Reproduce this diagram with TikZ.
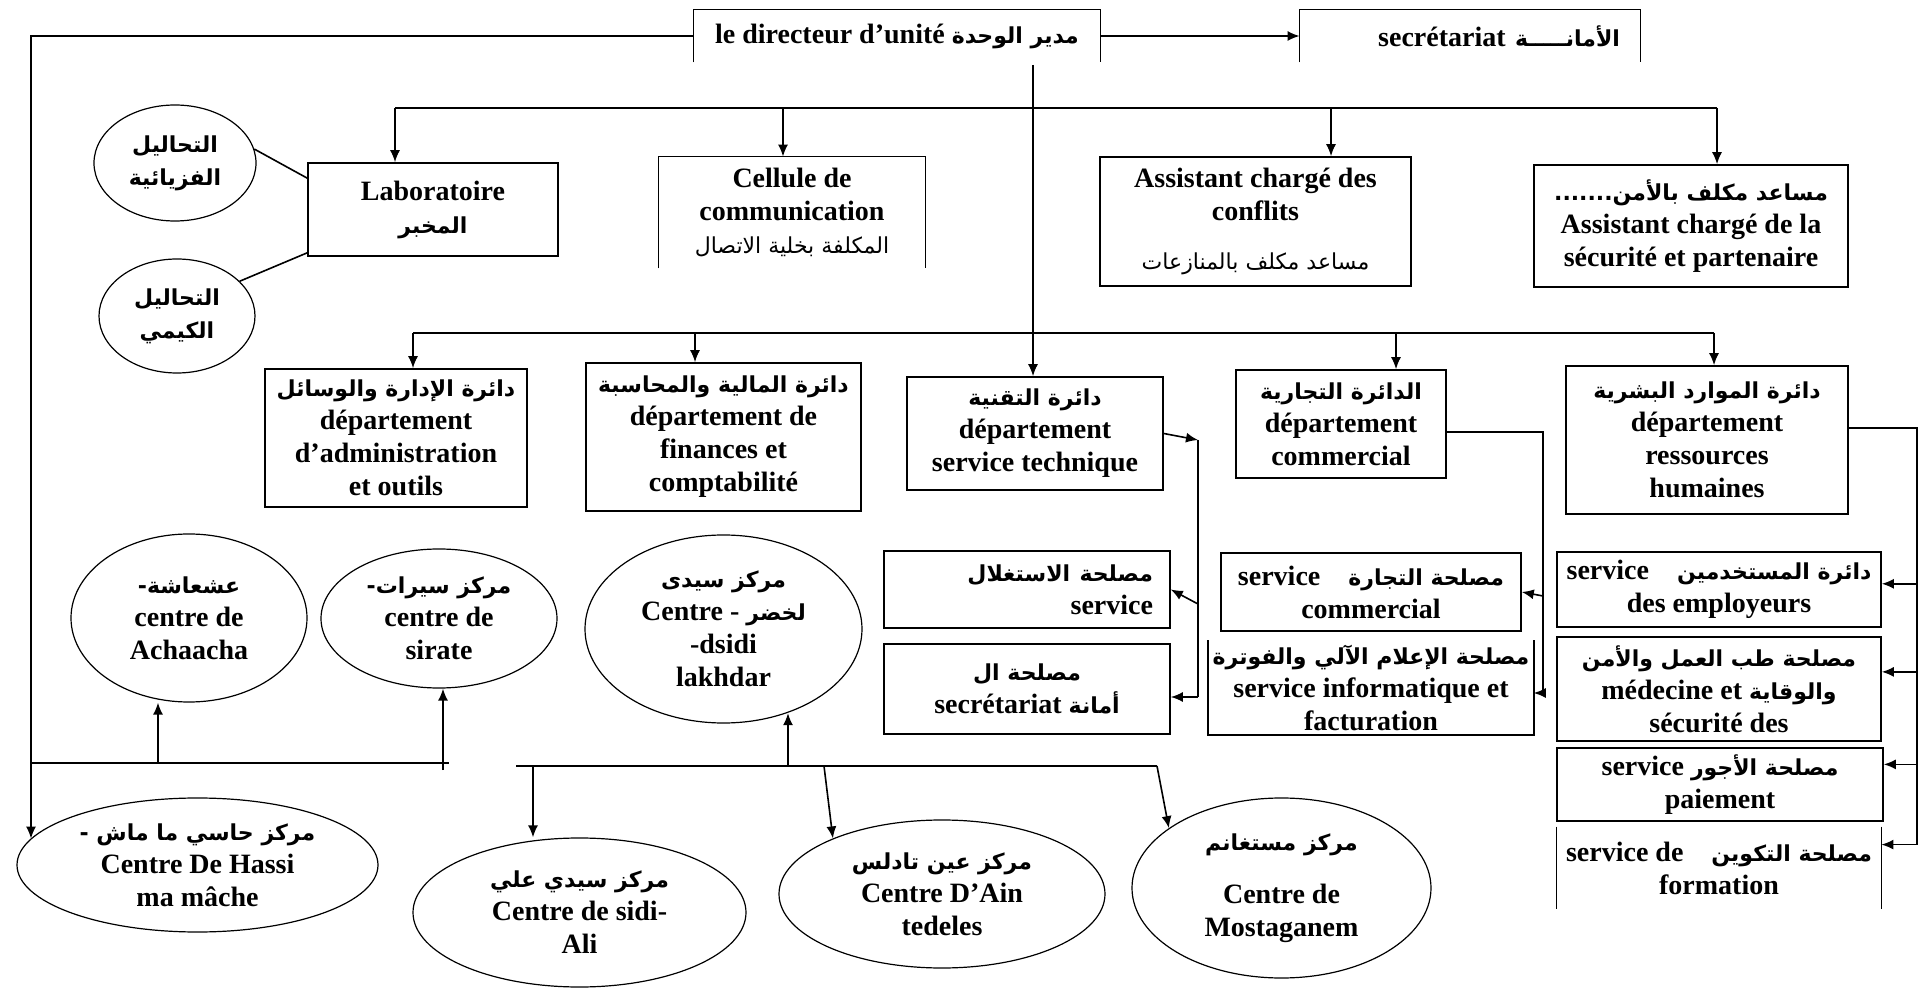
\documentclass[tikz,border=0pt]{standalone}
\usepackage{fontspec}
\setmainfont{Liberation Serif}
\newfontfamily\arfont[Script=Arabic]{DejaVu Sans}
\TeXXeTstate=1
\newcommand{\arb}[1]{{\arfont\fontsize{11}{16.5}\selectfont\beginR #1\endR}}
\newcommand{\arr}[1]{{\arfont\mdseries\fontsize{11}{16.5}\selectfont\beginR #1\endR}}
\usetikzlibrary{arrows.meta,positioning,shapes.geometric}

\begin{document}
\begin{tikzpicture}[
  x=0.5pt,y=-0.5pt,
  font=\fontsize{14}{16.5}\selectfont\bfseries,
  >={Latex[length=6pt,width=5pt]},
  box/.style={draw,line width=0.8pt,inner sep=2pt,align=center},
  open/.style={inner sep=2pt,align=center},
  oval/.style={draw,ellipse,line width=0.6pt,inner sep=0pt,align=center},
  link/.style={line width=0.8pt}
]
\useasboundingbox (0,0) rectangle (1924,989);

% direction
\node[open,minimum width=203pt,minimum height=26pt] (dir) at (897,36)
  {le directeur d'unité \arb{مدير الوحدة}};
\node[open,minimum width=170pt,minimum height=26pt,text width=150pt,align=right] (secr) at (1470,36)
  {secrétariat \arb{الأمانـــــة}};
\draw[link] (dir.south west) -- (dir.north west) -- (dir.north east) -- (dir.south east);
\draw[link] (secr.south west) -- (secr.north west) -- (secr.north east) -- (secr.south east);

% assistants
\node[box,minimum width=125pt,minimum height=46.5pt] (lab) at (433,209.5)
  {Laboratoire\\\arb{المخبر}};
\node[open,minimum width=133pt,minimum height=55.5pt] (cell) at (792,212.5)
  {Cellule de\\communication\\\arr{المكلفة بخلية الاتصال}};
\draw[link] (cell.south west) -- (cell.north west) -- (cell.north east) -- (cell.south east);
\node[box,minimum width=155.5pt,minimum height=64.5pt] (confl) at (1255.5,221.5)
  {Assistant chargé des\\conflits\\[8pt]\arr{مساعد مكلف بالمنازعات}};
\node[box,minimum width=157pt,minimum height=61pt] (secu) at (1691,226)
  {\arb{مساعد مكلف بالأمن.......}\\Assistant chargé de la\\sécurité et partenaire};
\node[oval,minimum width=81pt,minimum height=58pt] (phys) at (175,163)
  {\arb{التحاليل}\\\arb{الفزيائية}};
\node[oval,minimum width=78pt,minimum height=57pt] (chem) at (177,316)
  {\arb{التحاليل}\\\arb{الكيمي}};

% departements
\node[box,minimum width=131pt,minimum height=69pt] (admin) at (396,438)
  {\arb{دائرة الإدارة والوسائل}\\département\\d'administration\\et outils};
\node[box,minimum width=137.5pt,minimum height=74pt] (fin) at (723.5,437)
  {\arb{دائرة المالية والمحاسبة}\\département de\\finances et\\comptabilité};
\node[box,minimum width=128pt,minimum height=56.5pt] (tech) at (1035,433.5)
  {\arb{دائرة التقنية}\\département\\service technique};
\node[box,minimum width=105pt,minimum height=54pt] (comm) at (1341,424)
  {\arb{الدائرة التجارية}\\département\\commercial};
\node[box,minimum width=141pt,minimum height=74pt] (hr) at (1707,440)
  {\arb{دائرة الموارد البشرية}\\département\\ressources\\humaines};

% services
\node[box,minimum width=143pt,minimum height=38.5pt,text width=126pt,align=right] (expl) at (1027,589.5)
  {\arb{مصلحة الاستغلال}\\service};
\node[box,minimum width=143pt,minimum height=45pt] (ssecr) at (1027,689)
  {\arb{مصلحة ال}\\secrétariat \arb{أمانة}};
\node[box,minimum width=150pt,minimum height=39pt] (scomm) at (1371,592)
  {service\quad\arb{مصلحة التجارة}\\commercial};
\node[open,minimum width=150pt,minimum height=45.5pt] (sinfo) at (1371,687.5)
  {\arb{مصلحة الإعلام الآلي والفوترة}\\service informatique et\\facturation};
\draw[link] (sinfo.north west) -- (sinfo.south west) -- (sinfo.south east) -- (sinfo.north east);
\node[box,minimum width=162pt,minimum height=37.5pt] (semp) at (1719,589.5)
  {service\quad\arb{دائرة المستخدمين}\\des employeurs};
\node[box,minimum width=162pt,minimum height=52pt] (smed) at (1719,689)
  {\arb{مصلحة طب العمل والأمن}\\médecine et \arb{والوقاية}\\sécurité des};
\node[box,minimum width=163pt,minimum height=36.5pt] (spai) at (1720,784.5)
  {service \arb{مصلحة الأجور}\\paiement};
\node[open,minimum width=162pt,minimum height=41pt] (sform) at (1719,868)
  {service de\quad\arb{مصلحة التكوين}\\formation};
\draw[link] (sform.north west) -- (sform.south west);
\draw[link] (sform.north east) -- (sform.south east);

% centres
\node[oval,minimum width=118pt,minimum height=84pt] (achaacha) at (189,618)
  {\arb{عشعاشة-}\\centre de\\Achaacha};
\node[oval,minimum width=118pt,minimum height=69.5pt] (sirate) at (439,618.5)
  {\arb{مركز سيرات-}\\centre de\\sirate};
\node[oval,minimum width=138.5pt,minimum height=94pt] (lakhdar) at (723.5,629)
  {\arb{مركز سيدى}\\Centre - \arb{لخضر}\\-dsidi\\lakhdar};
\node[oval,minimum width=180.5pt,minimum height=67pt] (hassi) at (197.5,865)
  {\arb{مركز حاسي ما ماش -}\\Centre De Hassi\\ma mâche};
\node[oval,minimum width=166.5pt,minimum height=74.5pt] (sidiali) at (579.5,912.5)
  {\arb{مركز سيدي علي}\\Centre de sidi-\\Ali};
\node[oval,minimum width=163pt,minimum height=74pt] (ain) at (942,894)
  {\arb{مركز عين تادلس}\\Centre D'Ain\\tedeles};
\node[oval,minimum width=149.5pt,minimum height=90pt] (mosta) at (1281.5,888)
  {\arb{مركز مستغانم}\\[10pt]Centre de\\Mostaganem};

% liaisons du haut
\coordinate (lc) at (31,36);
\draw[link,->] (dir.west) -- (lc) -- (lc |- hassi.171);
\draw[link,->] (dir.east) -- (secr.west);
\coordinate (dv) at (1033,65);
\draw[link,->] (dv) -- (dv |- tech.north);

\coordinate (b1w) at (395,108);
\coordinate (b1c) at (783,108);
\coordinate (b1a) at (1331,108);
\coordinate (b1e) at (1717,108);
\draw[link] (b1w) -- (b1e);
\draw[link,->] (b1w) -- (b1w |- lab.north);
\draw[link,->] (b1c) -- (b1c |- cell.north);
\draw[link,->] (b1a) -- (b1a |- confl.north);
\draw[link,->] (b1e) -- (b1e |- secu.north);
\draw[link] (phys.10) -- (lab.166);
\draw[link] (chem.29) -- (lab.199);

\coordinate (b2w) at (413,333);
\coordinate (b2f) at (695,333);
\coordinate (b2c) at (1396,333);
\coordinate (b2e) at (1714,333);
\draw[link] (b2w) -- (b2e);
\draw[link,->] (b2w) -- (b2w |- admin.north);
\draw[link,->] (b2f) -- (b2f |- fin.north);
\draw[link,->] (b2c) -- (b2c |- comm.north);
\draw[link,->] (b2e) -- (b2e |- hr.north);

% services
\coordinate (t1) at (1198,440);
\coordinate (t2) at (1198,697);
\coordinate (t3) at (1198,604);
\draw[link,->] (tech.east) -- (t1);
\draw[link] (t1) -- (t2);
\draw[link,->] (t3) -- (expl.east);
\draw[link,->] (t2) -- ([yshift=-4pt]ssecr.east);

\coordinate (c1) at (1543,432);
\coordinate (c2) at (1543,693);
\coordinate (c3) at (1543,596);
\draw[link] (comm.east |- c1) -- (c1) -- (c2);
\draw[link,->] (c2) -- (sinfo.east |- c2);
\draw[link,->] (c3) -- (scomm.east);

\coordinate (h1) at (1917,428);
\coordinate (sfa) at ([yshift=-9pt]sform.north east);
\draw[link] (hr.east |- h1) -- (h1) -- (h1 |- sfa);
\draw[link,->] (h1 |- semp.2) -- (semp.2);
\draw[link,->] (h1 |- smed.6) -- (smed.6);
\draw[link,->] (h1 |- spai.7) -- (spai.7);
\draw[link,->] (h1 |- sfa) -- (sfa);

% centres
\coordinate (b3a) at (31,763);
\coordinate (b3b) at (449,763);
\coordinate (b3ach) at (158,763);
\coordinate (b3sir) at (443,770);
\draw[link] (b3a) -- (b3b);
\draw[link,->] (b3ach) -- (b3ach |- achaacha.south);
\draw[link,->] (b3sir) -- (b3sir |- sirate.south);

\coordinate (b3c) at (516,766);
\coordinate (b3d) at (1157,766);
\coordinate (b3sa) at (533,766);
\coordinate (b3lk) at (788,766);
\coordinate (b3ain) at (824,766);
\draw[link] (b3c) -- (b3d);
\draw[link,->] (b3sa) -- (b3sa |- sidiali.north);
\draw[link,->] (b3lk) -- (b3lk |- lakhdar.-53);
\draw[link,->] (b3ain) -- (ain.153);
\draw[link,->] (b3d) -- (mosta.152);
\end{tikzpicture}
\end{document}
